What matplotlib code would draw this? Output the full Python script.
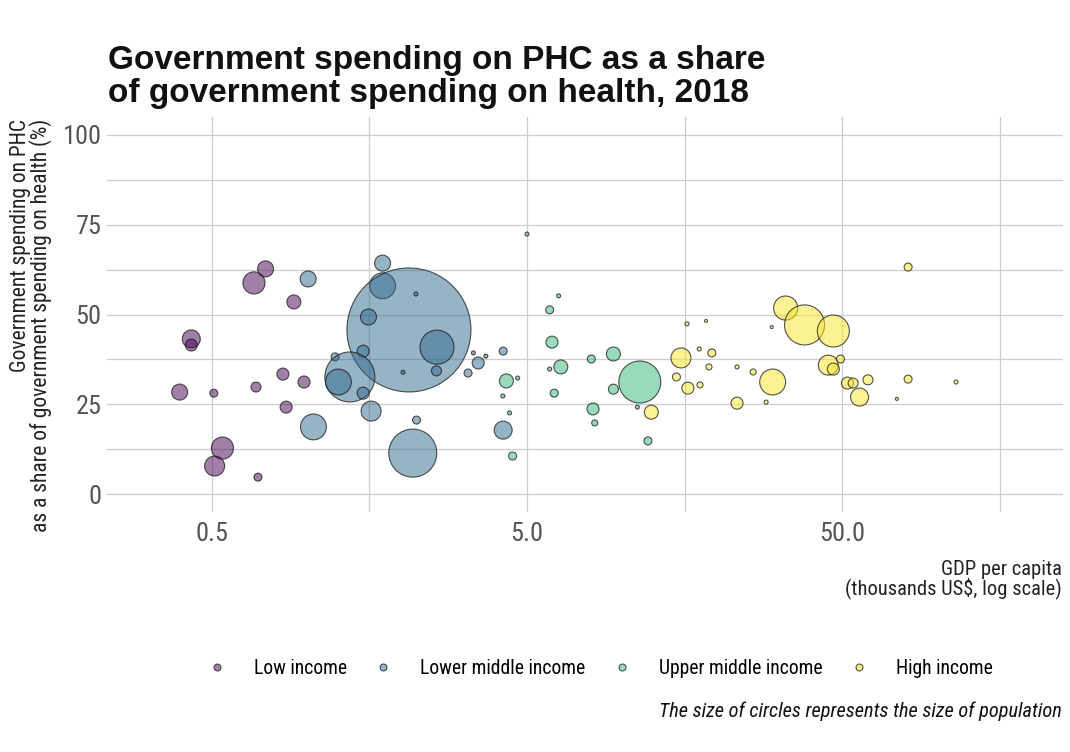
import matplotlib
matplotlib.use("Agg")
import matplotlib.pyplot as plt
from matplotlib import font_manager
from matplotlib.lines import Line2D
from matplotlib.colors import to_rgba
import numpy as np

# ---- data: GDP per capita (thousands US$), PHC share (%), population (millions)
low_gdp = [0.74, 0.68, 0.91, 0.43, 0.43, 0.84, 0.69, 0.395, 0.507, 0.86, 0.54, 0.51, 0.70, 0.98]
low_phc = [62.7, 58.8, 53.5, 43.2, 41.5, 33.4, 29.8, 28.4, 28.1, 24.2, 12.8, 7.8, 4.7, 31.2]
low_pop = [22.5, 43, 17.2, 28.5, 12.7, 12.7, 8.8, 22.5, 5.6, 12.7, 43, 35, 5.6, 12.7]

lmi_gdp = [1.01, 1.05, 1.74, 1.74, 2.11, 1.57, 2.22, 2.59, 2.58, 2.02, 1.51, 1.23,
           1.37, 1.26, 1.51, 1.60, 2.23, 2.17, 3.50, 3.25, 3.38, 3.70, 4.20, 4.20]
lmi_phc = [59.9, 18.7, 64.3, 58.0, 45.7, 49.3, 55.7, 40.9, 34.3, 33.9, 39.8, 38.2,
           32.6, 31.2, 28.1, 23.1, 20.6, 11.4, 36.5, 33.7, 39.3, 38.4, 17.8, 39.8]
lmi_pop = [22.5, 59, 22.5, 59, 1353, 22.5, 1.4, 102, 8.8, 1.4, 12.7, 5.6,
           220, 59, 12.7, 35, 5.6, 203, 12.7, 5.6, 1.4, 1.4, 28.5, 5.6]

umi_gdp = [5.0, 6.3, 5.9, 6.0, 6.4, 5.9, 6.1, 4.3, 4.67, 4.19, 4.4, 4.5,
           8.0, 9.4, 9.4, 11.4, 8.1, 8.2, 12.1, 11.2]
umi_phc = [72.4, 55.2, 51.3, 42.3, 35.4, 34.8, 28.1, 31.5, 32.3, 27.3, 22.6, 10.6,
           37.6, 39.0, 29.2, 31.2, 23.7, 19.8, 14.8, 24.2]
umi_pop = [1.4, 1.4, 5.6, 12.7, 17.2, 1.4, 5.6, 17.2, 1.4, 1.4, 1.4, 5.6,
           5.6, 17.2, 8.8, 155, 12.7, 3.2, 5.6, 1.4]

hi_gdp = [12.4, 15.4, 14.9, 16.2, 17.7, 18.9, 19.3, 17.6, 16.1, 18.5, 23.2, 23.2,
          26.1, 30.1, 28.7, 29.9, 33.1, 38.0, 46.9, 45.2, 46.9, 49.4, 52.0, 54.2,
          60.4, 56.8, 81.0, 81.0, 74.6, 115.0]
hi_phc = [22.8, 37.9, 32.6, 29.5, 30.4, 35.4, 39.3, 40.4, 47.4, 48.2, 35.4, 25.3,
          34.0, 31.2, 25.6, 46.5, 51.8, 47.1, 45.4, 35.9, 34.8, 37.6, 30.9, 30.9,
          31.8, 27.0, 63.2, 32.0, 26.5, 31.2]
hi_pop = [17.2, 35, 5.6, 12.7, 3.2, 3.2, 5.6, 1.4, 1.4, 0.8, 1.4, 12.7,
          3.2, 59, 1.4, 0.8, 51, 141, 90, 35, 12.7, 5.6, 12.7, 8.8,
          8.8, 28.5, 5.6, 5.6, 0.8, 1.4]

groups = ["Low income", "Lower middle income", "Upper middle income", "High income"]
colors = ["#440154", "#31688E", "#35B779", "#FDE725"]
series = [(low_gdp, low_phc, low_pop), (lmi_gdp, lmi_phc, lmi_pop),
          (umi_gdp, umi_phc, umi_pop), (hi_gdp, hi_phc, hi_pop)]

x_major = [0.5, 5.0, 50.0]
x_labels = ["0.5", "5.0", "50.0"]
y_major = [0, 25, 50, 75, 100]


def pick_font(names):
    available = {f.name for f in font_manager.fontManager.ttflist}
    for n in names:
        if n in available:
            return n
    return "DejaVu Sans"


narrow = pick_font(["Liberation Sans Narrow", "Arial Narrow", "Roboto Condensed",
                    "DejaVu Sans Condensed", "Liberation Sans"])
regular = pick_font(["Liberation Sans", "Arial", "DejaVu Sans"])

W, H = 1070, 752
fig = plt.figure(figsize=(W / 100, H / 100), dpi=100)
fig.patch.set_facecolor("white")

ax = fig.add_axes([107 / W, 1 - 512 / H, (1063 - 107) / W, (512 - 117) / H])
ax.set_xscale("log")
ax.set_xlim(10 ** -0.634, 10 ** 2.40)
ax.set_ylim(-5, 105)

# marker area proportional to population
px_to_pt = 0.72
size_per_million = (2 * px_to_pt) ** 2 / 0.352

for (gx, gy, gp), col in zip(series, colors):
    s = np.asarray(gp) * size_per_million
    ax.scatter(gx, gy, s=s, facecolor=to_rgba(col, 0.5),
               edgecolor=to_rgba("#1a1a1a", 0.75), linewidth=0.8, zorder=3)

# grid
grid_col = "#cdcdcd"
ax.set_xticks(x_major)
ax.set_xticklabels(x_labels)
ax.set_xticks([0.5 * 10 ** 0.5, 5 * 10 ** 0.5, 50 * 10 ** 0.5], minor=True)
ax.set_yticks(y_major)
ax.set_yticks([12.5, 37.5, 62.5, 87.5], minor=True)
ax.grid(True, which="both", color=grid_col, linewidth=0.9, zorder=0)
ax.set_axisbelow(True)
ax.tick_params(which="both", length=0)
ax.tick_params(axis="x", pad=7.5, labelsize=19, labelcolor="#555555")
ax.tick_params(axis="y", pad=4, labelsize=19, labelcolor="#555555")
for lab in ax.get_xticklabels() + ax.get_yticklabels():
    lab.set_fontfamily(narrow)
for sp in ax.spines.values():
    sp.set_visible(False)

# title
fig.text(108 / W, 1 - 45 / H,
         "Government spending on PHC as a share\nof government spending on health, 2018",
         ha="left", va="top", fontsize=24, fontweight="bold", family=regular,
         color="#111111", linespacing=1.07)

# axis titles
fig.text(31 / W, 1 - 119 / H,
         "Government spending on PHC\nas a share of government spending on health (%)",
         rotation=90, ha="center", va="top", multialignment="right",
         fontsize=15.5, family=narrow, color="#222222", linespacing=0.88)
fig.text(1062 / W, 1 - 560 / H, "GDP per capita\n(thousands US$, log scale)",
         ha="right", va="top", multialignment="right",
         fontsize=14.8, family=narrow, color="#222222", linespacing=0.9)

# legend
handles = [Line2D([], [], linestyle="none", marker="o", markersize=5,
                  markerfacecolor=to_rgba(c, 0.5),
                  markeredgecolor=to_rgba("#1a1a1a", 0.75), markeredgewidth=0.8)
           for c in colors]
fig.legend(handles, groups, loc="center", bbox_to_anchor=(600 / W, 1 - 668 / H),
           ncol=4, frameon=False, prop={"family": narrow, "size": 14.1},
           handlelength=1.0, handletextpad=1.4, columnspacing=1.35)

# caption
fig.text(1062 / W, 1 - 711 / H, "The size of circles represents the size of population",
         ha="right", va="center", fontsize=14.7, family=narrow, style="italic",
         color="#111111")

fig.savefig("out.png", dpi=100)
